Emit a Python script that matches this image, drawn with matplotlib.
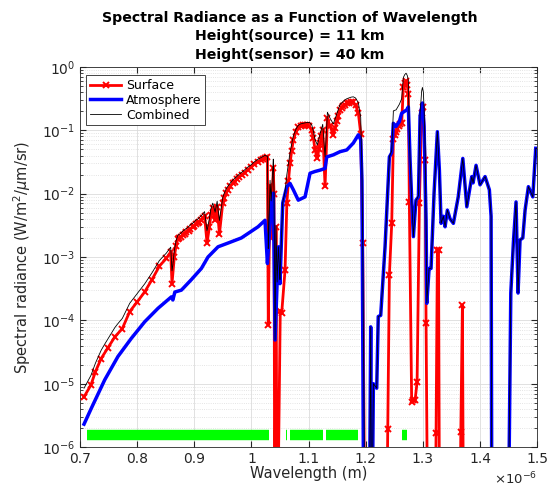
import numpy as np
import matplotlib
matplotlib.use("Agg")
import matplotlib.pyplot as plt
from matplotlib.ticker import FixedLocator, FuncFormatter, LogLocator, NullFormatter

# ---- data (wavelength in micrometres, radiance in W/m^2/um/sr) ----
surf_wl = [0.707, 0.719, 0.727, 0.737, 0.749, 0.761, 0.774, 0.787, 0.800, 0.813,
           0.826, 0.839, 0.851, 0.8587, 0.861, 0.865, 0.868, 0.871, 0.874, 0.877,
           0.880, 0.883, 0.886, 0.890, 0.893, 0.897, 0.900, 0.903, 0.906, 0.909,
           0.912, 0.915, 0.918, 0.9223, 0.9265, 0.929, 0.9323, 0.9364, 0.940, 0.944,
           0.9498, 0.9525, 0.9556, 0.959, 0.963, 0.967, 0.9705, 0.975, 0.979, 0.984,
           0.988, 0.994, 0.9995, 1.005, 1.0117, 1.016, 1.020, 1.024, 1.028,
           1.0295, 1.0326, 1.0345, 1.0383, 1.0395, 1.041, 1.043, 1.045, 1.0505, 1.053,
           1.0589, 1.062, 1.0648, 1.0676, 1.0705, 1.0734, 1.078, 1.082, 1.086, 1.090,
           1.0935, 1.0969, 1.101, 1.1056, 1.1085, 1.1114, 1.1154, 1.118, 1.120, 1.1225,
           1.1248, 1.1289, 1.133, 1.1377, 1.1434, 1.1465, 1.1493, 1.152, 1.1551, 1.158,
           1.161, 1.164, 1.1669, 1.171, 1.1745, 1.1784, 1.1825, 1.1872, 1.1913, 1.1948,
           1.199, 1.236, 1.2386, 1.2415, 1.2456, 1.2485, 1.2508, 1.2532, 1.2555, 1.258,
           1.2605, 1.263, 1.266, 1.2685, 1.2707, 1.2727, 1.2747, 1.2764, 1.2805, 1.2835,
           1.2865, 1.290, 1.294, 1.298, 1.301, 1.304, 1.3057, 1.309, 1.321, 1.3232,
           1.3255, 1.3275, 1.3295, 1.364, 1.3665, 1.3693, 1.3715, 1.50]
surf_val = [6.2e-6, 9.5e-6, 1.55e-5, 2.5e-5, 3.7e-5, 5.5e-5, 7.4e-5, 1.38e-4, 1.95e-4, 2.8e-4,
            4.4e-4, 7.2e-4, 9.5e-4, 1.2e-3, 3.8e-4, 1.0e-3, 1.5e-3, 1.9e-3, 2.0e-3, 2.1e-3,
            2.25e-3, 2.35e-3, 2.45e-3, 2.6e-3, 2.8e-3, 2.95e-3, 3.1e-3, 3.3e-3, 3.4e-3, 3.6e-3,
            3.8e-3, 4.1e-3, 4.4e-3, 1.66e-3, 3.0e-3, 4.6e-3, 5.9e-3, 3.8e-3, 6.2e-3, 2.3e-3,
            7.1e-3, 8.6e-3, 1.02e-2, 1.15e-2, 1.3e-2, 1.45e-2, 1.55e-2, 1.7e-2, 1.85e-2, 2.0e-2,
            2.15e-2, 2.4e-2, 2.6e-2, 2.9e-2, 3.2e-2, 3.35e-2, 3.5e-2, 3.65e-2, 3.8e-2,
            8.5e-5, 1.3e-2, 2.0e-3, 2.5e-2, 1.0e-2, 1e-8, 3.0e-3, 1e-8, 1.4e-4, 1.3e-4,
            6.3e-4, 7.0e-3, 1.6e-2, 3.0e-2, 4.8e-2, 7.0e-2, 9.5e-2, 0.112, 0.118, 0.12,
            0.122, 0.121, 0.115, 0.10, 0.075, 0.049, 0.036, 0.05, 0.063, 0.08,
            0.10, 0.013, 0.155, 0.115, 0.085, 0.11, 0.138, 0.17, 0.21, 0.225,
            0.24, 0.255, 0.266, 0.272, 0.276, 0.275, 0.25, 0.186, 0.089, 1.66e-3,
            1e-8, 1e-8, 1.9e-6, 5.2e-4, 3.4e-3, 7.4e-2, 8.5e-2, 9.5e-2, 0.105, 0.117,
            0.125, 0.13, 0.49, 0.56, 0.59, 0.52, 0.38, 7.4e-3, 5.2e-6, 5.5e-6,
            5.5e-6, 1.07e-5, 7.0e-3, 0.186, 0.234, 0.034, 9.0e-5, 1e-8, 1e-8, 1.66e-6,
            1.3e-3, 1.3e-3, 1e-8, 1e-8, 1.7e-6, 1.74e-4, 1e-8, 1e-8]

atm_wl = [0.707, 0.7198, 0.7432, 0.7665, 0.7898, 0.8132, 0.8365, 0.8599, 0.8625, 0.866,
          0.8774, 0.8949, 0.9124, 0.924, 0.9416, 0.959, 0.9824, 1.0116, 1.0238, 1.028,
          1.030, 1.0356, 1.0384, 1.0414, 1.0472, 1.050, 1.0548, 1.0618, 1.0676, 1.0734,
          1.082, 1.0939, 1.1026, 1.1114, 1.120, 1.1289, 1.1318, 1.1434, 1.1551, 1.1669,
          1.1784, 1.1872, 1.1913, 1.1935, 1.197, 1.206, 1.2088, 1.2105, 1.2135, 1.2193,
          1.222, 1.2263, 1.2339, 1.2415, 1.2455, 1.2484, 1.2532, 1.259, 1.263, 1.2718,
          1.2747, 1.2777, 1.2806, 1.2835, 1.288, 1.2923, 1.2952, 1.2993, 1.3022, 1.3057,
          1.307, 1.311, 1.3144, 1.3197, 1.3255, 1.329, 1.332, 1.336, 1.339, 1.343,
          1.3477, 1.3535, 1.362, 1.370, 1.377, 1.3857, 1.388, 1.3932, 1.4002, 1.409,
          1.4165, 1.4195, 1.421, 1.449, 1.454, 1.4585, 1.4632, 1.4667, 1.4702, 1.475,
          1.479, 1.4848, 1.4925, 1.4977]
atm_val = [2.3e-6, 4.1e-6, 1.15e-5, 2.7e-5, 5.2e-5, 9.5e-5, 1.55e-4, 2.35e-4, 2.1e-4, 2.8e-4,
           3.0e-4, 4.4e-4, 6.6e-4, 1.0e-3, 1.45e-3, 1.66e-3, 2.0e-3, 3.0e-3, 3.8e-3, 7.9e-4,
           1.5e-3, 7.9e-3, 1.02e-2, 4.9e-5, 1.45e-3, 3.8e-4, 7.1e-3, 1.29e-2, 1.45e-2, 1.15e-2,
           7.9e-3, 8.9e-3, 2.1e-2, 2.24e-2, 2.35e-2, 2.5e-2, 3.8e-2, 4.1e-2, 4.6e-2, 4.9e-2,
           6.3e-2, 8.5e-2, 7.1e-2, 1.6e-2, 1e-8, 1e-8, 7.9e-5, 1e-8, 1.0e-5, 8.5e-6,
           1.15e-4, 1.2e-4, 1.45e-3, 3.8e-2, 4.4e-2, 0.129, 0.115, 0.138, 0.186, 0.21,
           0.234, 3.4e-2, 7.9e-3, 2.1e-3, 7.9e-3, 8.9e-3, 0.166, 0.27, 0.115, 3.8e-3,
           1.86e-4, 6.6e-4, 6.6e-4, 1.02e-2, 9.5e-2, 2.35e-2, 3.4e-3, 4.4e-3, 3.0e-3, 5.5e-3,
           4.0e-3, 3.4e-3, 8.9e-3, 3.6e-2, 6.2e-3, 1.86e-2, 1.48e-2, 2.8e-2, 1.38e-2, 1.86e-2,
           1.15e-2, 4.4e-3, 1e-8, 1e-8, 2.7e-4, 1.66e-3, 7.4e-3, 2.7e-4, 1.86e-3, 2.0e-3,
           5.5e-3, 1.29e-2, 8.9e-3, 5.2e-2]

# windows shown as green bars (start, end) in micrometres
window_start = [0.713, 1.038, 1.061, 1.067, 1.130, 1.264]
window_end = [1.030, 1.041, 1.063, 1.125, 1.187, 1.273]
window_level = 1.55e-6

series_labels = ["Surface", "Atmosphere", "Combined"]
title_lines = ["Spectral Radiance as a Function of Wavelength",
               "Height(source) = 11 km",
               "Height(sensor) = 40 km"]
x_ticks_um = [0.7, 0.8, 0.9, 1.0, 1.1, 1.2, 1.3, 1.4, 1.5]

# ---- derived ----
um = 1e-6
sw = np.array(surf_wl) * um
sv = np.array(surf_val)
aw = np.array(atm_wl) * um
av = np.array(atm_val)
# combined = surface + atmosphere on a common grid (log-space, as drawn on log axis)
cw = np.union1d(sw, aw)
cv = 10 ** np.interp(cw, sw, np.log10(sv)) + 10 ** np.interp(cw, aw, np.log10(av))

fig = plt.figure(figsize=(5.5, 4.87), dpi=100)
ax = fig.add_axes([0.1455, 0.082, 0.831, 0.7805])

for s, e in zip(window_start, window_end):
    ax.plot([s * um, e * um], [window_level, window_level], color="#00ff00",
            lw=7.5, solid_capstyle="butt", zorder=2)

ax.plot(sw, sv, color="red", lw=2.0, marker="x", ms=5, mew=1.4,
        label=series_labels[0], zorder=3)
ax.plot(aw, av, color="#0000ff", lw=2.5, label=series_labels[1], zorder=4)
ax.plot(cw, cv, color="black", lw=0.6, label=series_labels[2], zorder=5)

ax.set_yscale("log")
ax.set_xlim(0.7 * um, 1.5 * um)
ax.set_ylim(1e-6, 1)

ax.xaxis.set_major_locator(FixedLocator([t * um for t in x_ticks_um]))
ax.xaxis.set_major_formatter(FuncFormatter(lambda v, p: "%g" % round(v / um, 3)))
ax.yaxis.set_major_locator(LogLocator(base=10, numticks=10))
ax.yaxis.set_minor_locator(LogLocator(base=10, subs=np.arange(2, 10), numticks=20))
ax.yaxis.set_minor_formatter(NullFormatter())

ax.grid(True, which="major", color="#dcdcdc", lw=0.6, ls="-")
ax.grid(True, which="minor", axis="y", color="#dcdcdc", lw=0.6, ls=":")
ax.set_axisbelow(True)

ax.tick_params(which="both", direction="in", top=True, right=True,
               colors="#262626", labelsize=10)
ax.tick_params(which="major", length=4)
ax.tick_params(which="minor", length=2)
for sp in ax.spines.values():
    sp.set_color("#262626")
    sp.set_linewidth(0.6)

ax.set_xlabel("Wavelength (m)", fontsize=10.5, color="#262626", labelpad=0)
ax.set_ylabel("Spectral radiance (W/m$^2$/$\\mu$m/sr)", fontsize=10.5,
              color="#262626", labelpad=6)
ax.text(1.0, -0.062, "$\\times10^{-6}$", transform=ax.transAxes, ha="right",
        va="top", fontsize=9.5, color="#262626")

fig.text(0.527, 0.978, "\n".join(title_lines), ha="center", va="top",
         fontsize=10.2, fontweight="bold", linespacing=1.42)

leg = ax.legend(loc="upper left", bbox_to_anchor=(0.008, 0.985), fontsize=9,
                frameon=True, fancybox=False, framealpha=1, edgecolor="#262626",
                borderpad=0.3, labelspacing=0.15, handlelength=2.5,
                handletextpad=0.4, borderaxespad=0.2)
leg.get_frame().set_linewidth(0.6)

fig.savefig("out.png", dpi=100)
